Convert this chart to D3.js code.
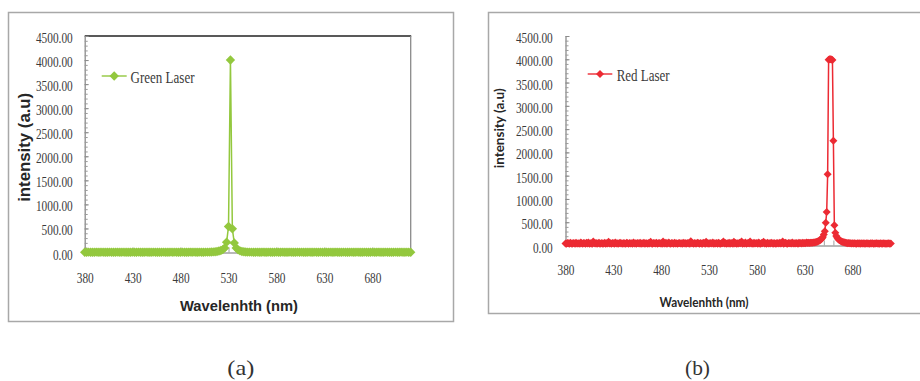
<!DOCTYPE html>
<html>
<head>
<meta charset="utf-8">
<script src="https://cdn.jsdelivr.net/npm/d3@7/dist/d3.min.js"></script>
<style>
  html, body { margin: 0; padding: 0; background: #fff; }
  svg { display: block; }
</style>
</head>
<body>
<svg id="fig" width="920" height="381"></svg>
<script>
// Spectrometer sampling grids (nm)
const greenWavelengths = d3.range(380, 721, 2);
const redWavelengths = d3.range(380, 721, 1);

// Green laser spectrum, one value per 2 nm sample
const greenIntensity = [
  6,5,7,6,5,6,8,6,5,7,6,5,6,7,5,6,6,8,5,6,
  7,5,6,6,5,7,6,5,8,6,6,5,7,6,5,6,7,6,5,6,
  6,7,5,6,6,8,5,7,6,6,5,7,6,6,5,8,6,7,6,5,
  7,6,6,8,7,9,10,12,16,22,
  30,42,60,95,215,540,4000,493,200,95,55,35,22,15,11,9,
  8,7,6,6,7,5,6,8,6,5,7,6,6,5,7,6,5,8,6,6,
  5,7,6,6,5,8,6,7,5,6,6,7,5,6,8,6,5,7,6,6,
  5,6,7,5,6,8,6,6,5,7,6,5,6,7,6,5,8,6,6,5,
  7,6,5,6,7,6,5,8,6,6,5,7,6,6,5,6,7,5,6,8,
  6,5,7,6,6
];

// Red laser spectrum, one value per 1 nm sample
const redIntensity = [
  42,38,55,47,35,60,44,39,52,48,36,58,41,45,50,37,62,46,40,53,
  48,35,57,43,66,39,51,45,38,88,47,42,55,36,49,61,40,44,52,38,
  45,59,37,50,43,82,41,48,36,54,46,39,63,44,51,37,47,58,42,49,
  38,52,45,40,61,47,36,55,43,50,39,64,44,48,37,53,46,41,57,35,
  49,44,60,38,51,46,40,56,42,78,45,37,53,48,41,59,36,47,52,43,
  50,39,85,45,42,57,38,49,62,44,36,54,47,40,58,43,51,37,46,55,
  41,48,36,59,45,52,39,47,56,42,38,90,46,50,37,54,44,41,60,48,
  36,53,45,40,57,47,39,81,44,51,38,55,46,42,63,37,49,45,52,40,
  58,43,37,50,46,84,41,55,39,48,44,61,36,52,47,40,79,45,53,38,
  49,42,57,46,88,39,51,44,62,37,48,55,41,86,45,50,38,59,43,47,
  52,40,64,45,38,56,47,83,42,50,37,58,44,49,41,61,46,39,53,45,
  38,55,47,42,60,44,51,87,39,48,57,43,36,54,46,50,41,63,45,49,
  43,56,48,40,59,47,52,45,61,50,55,48,63,52,58,54,60,57,58,62,
  66,70,75,82,90,100,112,128,150,185,
  235,308,489,717,1529,3990,4000,4000,3995,3985,
  2250,437,273,205,165,140,120,105,92,83,
  75,68,62,58,54,50,52,46,49,44,
  47,42,50,45,40,48,43,46,39,51,44,41,47,38,45,49,42,44,40,46,
  43,47,39,45,41,48,42,44,38,46,43,40,47,41,45,39,44,42,46,40,43
];

const xTickLabels = [380, 430, 480, 530, 580, 630, 680];
const yTickLabels = [0, 500, 1000, 1500, 2000, 2500, 3000, 3500, 4000, 4500];
const yMinorTicks = d3.range(0, 4501, 100);
const seriesNames = ["Green Laser", "Red Laser"];
const axisTitles = { x: "Wavelenhth (nm)", y: "intensity (a.u)" };
const panelLabels = ["(a)", "(b)"];

const svg = d3.select("#fig");
const serif = "'Liberation Serif', 'Times New Roman', serif";

function squeeze(sel, factor) {
  sel.each(function () {
    const w = this.getComputedTextLength();
    d3.select(this).attr("textLength", w * factor).attr("lengthAdjust", "spacingAndGlyphs");
  });
}

function drawPanel(p) {
  const g = svg.append("g");

  // outer frame
  g.append("rect")
    .attr("x", p.frame[0]).attr("y", p.frame[1])
    .attr("width", p.frame[2]).attr("height", p.frame[3])
    .attr("fill", "#fff").attr("stroke", "#a8a8a8").attr("stroke-width", 1.5);

  const x = d3.scaleLinear().domain([380, 720]).range([p.x0, p.x1]);
  const y = d3.scaleLinear().domain([0, 4500]).range([p.y0, p.y1]);

  // plot area border (top / right)
  if (p.box) {
    g.append("line").attr("x1", p.x0).attr("x2", p.x1 + 0.5).attr("y1", p.y1).attr("y2", p.y1)
      .attr("stroke", "#222").attr("stroke-width", 1.3);
    g.append("line").attr("x1", p.x1).attr("x2", p.x1).attr("y1", p.y1).attr("y2", p.y0)
      .attr("stroke", "#8a8a8a").attr("stroke-width", 1.3);
  }

  // y axis: minor ticks
  const yMinor = g.append("g").attr("transform", `translate(${p.x0},0)`)
    .call(d3.axisLeft(y).tickValues(yMinorTicks).tickSizeInner(-3).tickSizeOuter(0).tickFormat(""));
  yMinor.select(".domain").attr("stroke", "#8c8c8c").attr("stroke-width", 1.3);
  yMinor.selectAll(".tick line").attr("stroke", "#9a9a9a");

  // y axis: major ticks + labels
  const yMajor = g.append("g").attr("transform", `translate(${p.x0},0)`)
    .call(d3.axisLeft(y).tickValues(yTickLabels).tickSizeInner(-4).tickSizeOuter(0)
      .tickPadding(p.yPad).tickFormat(d3.format(".2f")));
  yMajor.select(".domain").remove();
  yMajor.selectAll(".tick line").attr("stroke", "#8c8c8c");
  yMajor.selectAll(".tick text")
    .attr("font-family", serif).attr("font-size", 14.5).attr("fill", "#3a3a3a").attr("dy", "0.45em")
    .call(squeeze, 0.78);

  // x axis line and ticks
  const xAx = g.append("g").attr("transform", `translate(0,${p.y0})`)
    .call(d3.axisBottom(x).tickValues(p.xTicks).tickSizeInner(-5).tickSizeOuter(0).tickFormat(""));
  xAx.select(".domain").attr("stroke", "#a0a0a0").attr("stroke-width", 1.3);
  xAx.selectAll(".tick line").attr("stroke", "#a0a0a0");

  // x tick labels
  const xLab = g.append("g").attr("transform", `translate(0,${p.y0})`)
    .call(d3.axisBottom(x).tickValues(xTickLabels).tickSize(0).tickPadding(p.xPad).tickFormat(d3.format("d")));
  xLab.select(".domain").remove();
  xLab.selectAll(".tick text")
    .attr("font-family", serif).attr("font-size", 14.5).attr("fill", "#3a3a3a")
    .call(squeeze, 0.78);

  // series
  const pts = p.wl.map((w, i) => [w, p.values[i]]);
  g.append("path").datum(pts)
    .attr("fill", "none").attr("stroke", p.color).attr("stroke-width", 1.5)
    .attr("stroke-linejoin", "round")
    .attr("d", d3.line().x(d => x(d[0])).y(d => y(d[1])));

  const diamond = d3.symbol().type(d3.symbolSquare).size(p.markerSize);
  g.append("g").selectAll("path").data(pts).join("path")
    .attr("transform", d => `translate(${x(d[0])},${y(d[1])}) rotate(45)`)
    .attr("d", diamond).attr("fill", p.color);

  // legend
  g.append("line").attr("x1", p.leg[0]).attr("x2", p.leg[1]).attr("y1", p.leg[2]).attr("y2", p.leg[2])
    .attr("stroke", p.color).attr("stroke-width", 1.4);
  g.append("path").attr("d", diamond)
    .attr("transform", `translate(${(p.leg[0] + p.leg[1]) / 2},${p.leg[2]}) rotate(45)`)
    .attr("fill", p.color);
  g.append("text").attr("x", p.leg[3]).attr("y", p.leg[4])
    .attr("font-family", serif).attr("font-size", 17).attr("fill", "#3a3a3a")
    .attr("textLength", p.leg[5]).attr("lengthAdjust", "spacingAndGlyphs")
    .text(p.name);

  // axis titles
  g.append("text").attr("x", p.xt[0]).attr("y", p.xt[1])
    .attr("text-anchor", "middle").attr("font-family", p.titleFont).attr("font-weight", "bold")
    .attr("font-size", p.xt[2]).attr("fill", "#262626")
    .attr("textLength", p.xt[3]).attr("lengthAdjust", "spacingAndGlyphs")
    .text(axisTitles.x);
  g.append("text").attr("transform", `translate(${p.yt[0]},${p.yt[1]}) rotate(-90)`)
    .attr("text-anchor", "middle").attr("font-family", p.titleFont).attr("font-weight", "bold")
    .attr("font-size", p.yt[2]).attr("fill", "#262626")
    .attr("textLength", p.yt[3]).attr("lengthAdjust", "spacingAndGlyphs")
    .text(axisTitles.y);

  // panel caption
  svg.append("text").attr("x", p.cap[0]).attr("y", 375)
    .attr("text-anchor", "middle").attr("font-family", serif).attr("font-size", 22).attr("fill", "#333")
    .attr("textLength", p.cap[1]).attr("lengthAdjust", "spacingAndGlyphs")
    .text(p.label);
}

drawPanel({
  frame: [8.5, 12.5, 445, 309],
  x0: 84.7, x1: 410.7, y0: 252.5, y1: 36,
  box: true,
  yPad: 12, xPad: 20,
  xTicks: xTickLabels,
  wl: greenWavelengths, values: greenIntensity,
  color: "#93c83e", markerSize: 44,
  name: seriesNames[0],
  leg: [101.7, 126.7, 76, 130.5, 83, 64],
  titleFont: "'Liberation Sans', Arial, sans-serif",
  xt: [239, 310.5, 14.5, 118],
  yt: [29.5, 147.3, 16.5, 109],
  label: panelLabels[0], cap: [240.8, 27]
});

drawPanel({
  frame: [488.5, 12.5, 440, 301],
  x0: 565.5, x1: 890.8, y0: 245.5, y1: 36,
  box: false,
  yPad: 12.8, xPad: 19,
  xTicks: d3.range(380, 721, 10),
  wl: redWavelengths, values: redIntensity,
  color: "#ec2a33", markerSize: 32,
  name: seriesNames[1],
  leg: [587.7, 612.3, 74, 616.7, 81, 53],
  titleFont: "Lato, 'Open Sans', sans-serif",
  xt: [704, 306.5, 13, 89],
  yt: [504, 128.3, 12.5, 80],
  label: panelLabels[1], cap: [697.5, 25]
});
</script>
</body>
</html>
